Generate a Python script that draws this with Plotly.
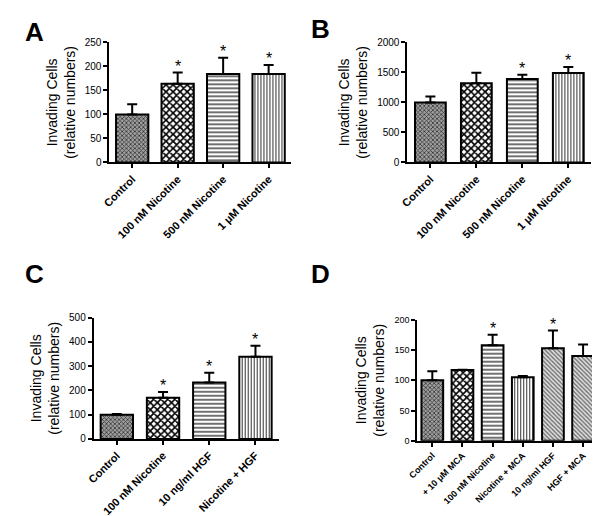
import plotly.graph_objects as go

# ---------------- data ----------------
a_cats = ["Control", "100 nM Nicotine", "500 nM Nicotine", "1 μM Nicotine"]
a_vals = [100, 164, 184, 184]
a_errs = [21, 23, 34, 19]
a_star = [False, True, True, True]

b_cats = ["Control", "100 nM Nicotine", "500 nM Nicotine", "1 μM Nicotine"]
b_vals = [1000, 1320, 1390, 1490]
b_errs = [100, 175, 70, 100]
b_star = [False, False, True, True]

c_cats = ["Control", "100 nM Nicotine", "10 ng/ml HGF", "Nicotine + HGF"]
c_vals = [100, 170, 233, 339]
c_errs = [3, 24, 40, 46]
c_star = [False, True, True, True]

d_cats = ["Control", "+ 10 μM MCA", "100 nM Nicotine", "Nicotine + MCA", "10 ng/ml HGF", "HGF + MCA"]
d_vals = [100, 117, 158, 105, 153, 140]
d_errs = [15, 0.5, 17, 2, 29, 19]
d_star = [False, False, True, False, True, False]

y_title = "Invading Cells<br>(relative numbers)"
FONT = "Liberation Sans"

# pattern styles (per pattern kind)
PAT = {
    "grey": dict(shape="x", size=3, solidity=0.45, fgcolor="#333333", bgcolor="#a0a0a0"),
    "check": dict(shape="x", size=5, solidity=0.55, fgcolor="#000000", bgcolor="#ffffff"),
    "hline": dict(shape="-", size=4, solidity=0.35, fgcolor="#333333", bgcolor="#ffffff"),
    "vline": dict(shape="|", size=3, solidity=0.35, fgcolor="#333333", bgcolor="#ffffff"),
    "diag": dict(shape="\\", size=3, solidity=0.4, fgcolor="#666666", bgcolor="#dddddd"),
}
a_pats = ["grey", "check", "hline", "vline"]
c_pats = ["grey", "check", "hline", "vline"]
d_pats = ["grey", "check", "hline", "vline", "diag", "diag"]

W, H = 600, 516

panels = [
    dict(cats=a_cats, vals=a_vals, errs=a_errs, stars=a_star, pats=a_pats,
         x0=93, x1=278, ytop=29, yzero=152, ymax=250, dtick=50, bw=0.71,
         xfs=11, yfs=10, letter="A", lx=17, ly=18),
    dict(cats=b_cats, vals=b_vals, errs=b_errs, stars=b_star, pats=a_pats,
         x0=396, x1=583, ytop=29, yzero=152, ymax=2000, dtick=500, bw=0.67,
         xfs=11, yfs=10, letter="B", lx=308, ly=15),
    dict(cats=c_cats, vals=c_vals, errs=c_errs, stars=c_star, pats=c_pats,
         x0=77, x1=265, ytop=311, yzero=435, ymax=500, dtick=100, bw=0.7,
         xfs=11, yfs=10, letter="C", lx=17, ly=266),
    dict(cats=d_cats, vals=d_vals, errs=d_errs, stars=d_star, pats=d_pats,
         x0=406, x1=590, ytop=313, yzero=437, ymax=200, dtick=50, bw=0.72,
         xfs=9, yfs=9, letter="D", lx=308, ly=266),
]

fig = go.Figure()
annotations = []
shapes = []
layout = {}

for i, p in enumerate(panels):
    k = "" if i == 0 else str(i + 1)
    xa, ya = "x" + k, "y" + k
    n = len(p["cats"])
    for c, v, e, t in zip(p["cats"], p["vals"], p["errs"], p["pats"]):
        st = PAT[t]
        fig.add_trace(go.Bar(
            x=[c], y=[v], xaxis=xa, yaxis=ya, width=p["bw"],
            marker=dict(
                color=st["bgcolor"],
                line=dict(color="black", width=2),
                pattern=dict(shape=st["shape"], size=st["size"], solidity=st["solidity"],
                             fgcolor=st["fgcolor"], bgcolor=st["bgcolor"],
                             fillmode="replace"),
            ),
            error_y=dict(type="data", symmetric=False, array=[e], arrayminus=[0],
                         color="black", thickness=2, width=5),
            showlegend=False, hoverinfo="skip",
        ))
    layout["xaxis" + k] = dict(
        domain=[p["x0"] / W, p["x1"] / W], anchor=ya, type="category",
        categoryorder="array", categoryarray=p["cats"],
        tickvals=p["cats"], ticktext=["<b>" + c + "</b>" for c in p["cats"]],
        range=[-0.5, n - 0.5], showline=True, linecolor="black", linewidth=2,
        ticks="outside", ticklen=4, tickwidth=1.5, tickcolor="black",
        tickangle=-45, showgrid=False, zeroline=False,
        tickfont=dict(family=FONT, size=p["xfs"], color="black"),
    )
    layout["yaxis" + k] = dict(
        domain=[(H - p["yzero"]) / H, (H - p["ytop"]) / H], anchor=xa,
        range=[0, p["ymax"]], dtick=p["dtick"], tick0=0,
        showline=True, linecolor="black", linewidth=2,
        ticks="outside", ticklen=4, tickwidth=1.5, tickcolor="black",
        showgrid=False, zeroline=False,
        tickfont=dict(family=FONT, size=p["yfs"], color="black"),
        title=dict(text=y_title, font=dict(family=FONT, size=14, color="black"), standoff=6),
    )
    for c, v, e, s in zip(p["cats"], p["vals"], p["errs"], p["stars"]):
        if s:
            annotations.append(dict(
                x=c, y=v + e, xref=xa, yref=ya, text="*", showarrow=False,
                yanchor="bottom", yshift=-4,
                font=dict(family=FONT, size=16, color="black")))
    annotations.append(dict(
        x=p["lx"] / W, y=1 - p["ly"] / H, xref="paper", yref="paper",
        text="<b>" + p["letter"] + "</b>", showarrow=False,
        xanchor="center", yanchor="middle",
        font=dict(family=FONT, size=26, color="black")))

# P < 0.05 bracket in panel D
br_y = 226
shapes.append(dict(type="line", xref="x4", yref="y4", x0=d_cats[2], x1=d_cats[3],
                   y0=br_y, y1=br_y, line=dict(color="black", width=2)))
for c in (d_cats[2], d_cats[3]):
    shapes.append(dict(type="line", xref="x4", yref="y4", x0=c, x1=c,
                       y0=br_y - 6, y1=br_y + 6, line=dict(color="black", width=2)))
annotations.append(dict(x=2.5, y=br_y + 8, xref="x4", yref="y4",
                        text="<i>P</i> < 0.05", showarrow=False, yanchor="bottom",
                        font=dict(family=FONT, size=12, color="black")))

fig.update_layout(
    width=W, height=H, margin=dict(l=0, r=0, t=0, b=0),
    paper_bgcolor="white", plot_bgcolor="white", barmode="overlay",
    annotations=annotations, shapes=shapes,
    **layout,
)

fig.write_html("out.html")
